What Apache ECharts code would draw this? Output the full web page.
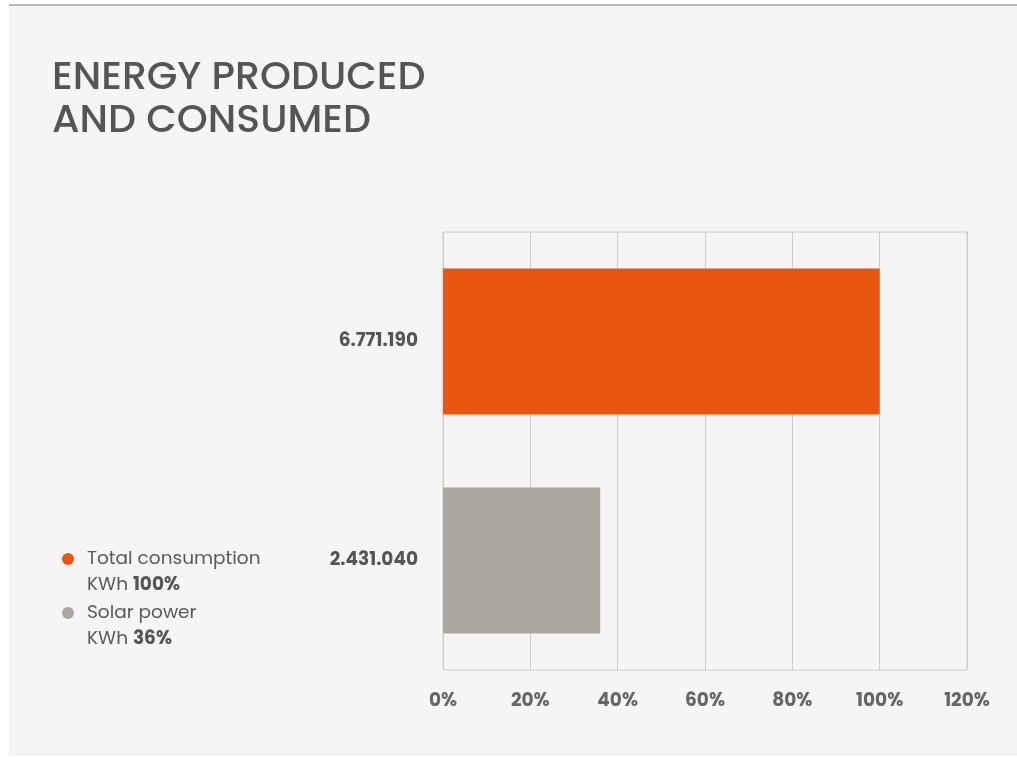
<!DOCTYPE html>
<html>
<head>
<meta charset="utf-8">
<script src="https://cdn.jsdelivr.net/npm/echarts@6/dist/echarts.min.js"></script>
<style>
  html, body { margin: 0; padding: 0; background: #ffffff; }
  #panel { position: absolute; left: 9px; top: 4px; width: 1008px; height: 752px; background: #f5f5f5; border-top: 2px solid #b8b8b8; box-sizing: border-box; }
  #chart { position: absolute; left: 0; top: 0; width: 1017px; height: 758px; }
</style>
</head>
<body>
<div id="panel"></div>
<div id="chart"></div>
<script>
// ---- data ----
const titleText = 'ENERGY PRODUCED\nAND CONSUMED';
const kwhLabels = ['6.771.190', '2.431.040'];
const seriesNames = ['Total consumption', 'Solar power'];
const percentValues = [100, 36];
const percentLabels = ['100%', '36%'];
const xTicks = [0, 20, 40, 60, 80, 100, 120];
const colors = ['#e8560f', '#aba69f'];

const font = 'Poppins, "Noto Sans", sans-serif';

const chart = echarts.init(document.getElementById('chart'), null, { renderer: 'canvas' });

const series = seriesNames.map((name, i) => ({
  name: name,
  type: 'bar',
  barGap: '-100%',
  barCategoryGap: '33.3%',
  itemStyle: { color: colors[i] },
  data: kwhLabels.map((_, j) => (j === i ? percentValues[i] : '-'))
}));

chart.setOption({
  backgroundColor: 'transparent',
  animation: false,
  textStyle: { fontFamily: font },
  title: {
    text: titleText,
    left: 52,
    top: 58,
    padding: 0,
    textStyle: { fontFamily: font, fontSize: 39.5, fontWeight: 500, color: '#555555', lineHeight: 43 }
  },
  legend: {
    orient: 'vertical',
    left: 62,
    top: 520,
    padding: 0,
    itemGap: -24,
    itemWidth: 28,
    itemHeight: 12,
    icon: 'circle',
    selectedMode: false,
    data: seriesNames,
    formatter: function (name) {
      const i = seriesNames.indexOf(name);
      return ' \n' + name + '\nKWh {b|' + percentLabels[i] + '}';
    },
    textStyle: {
      fontFamily: font, fontSize: 18.5, color: '#5a5a5a', lineHeight: 26,
      rich: { b: { fontFamily: font, fontSize: 18.5, fontWeight: 'bold', color: '#555555', lineHeight: 26 } }
    }
  },
  grid: {
    left: 443, right: 50, top: 232, bottom: 88,
    show: true, borderColor: '#cccccc', borderWidth: 1, backgroundColor: 'transparent'
  },
  xAxis: {
    type: 'value',
    min: xTicks[0],
    max: xTicks[xTicks.length - 1],
    interval: xTicks[1] - xTicks[0],
    axisLine: { show: false },
    axisTick: { show: false },
    splitLine: { show: true, lineStyle: { color: '#cccccc', width: 1 } },
    axisLabel: {
      formatter: '{value}%', margin: 22,
      fontFamily: font, fontSize: 18.5, fontWeight: 'bold', color: '#666666'
    }
  },
  yAxis: {
    type: 'category',
    inverse: true,
    data: kwhLabels,
    axisLine: { show: false },
    axisTick: { show: false },
    splitLine: { show: false },
    axisLabel: { margin: 25, fontFamily: font, fontSize: 18.5, fontWeight: 'bold', color: '#555555' }
  },
  series: series
});
</script>
</body>
</html>
